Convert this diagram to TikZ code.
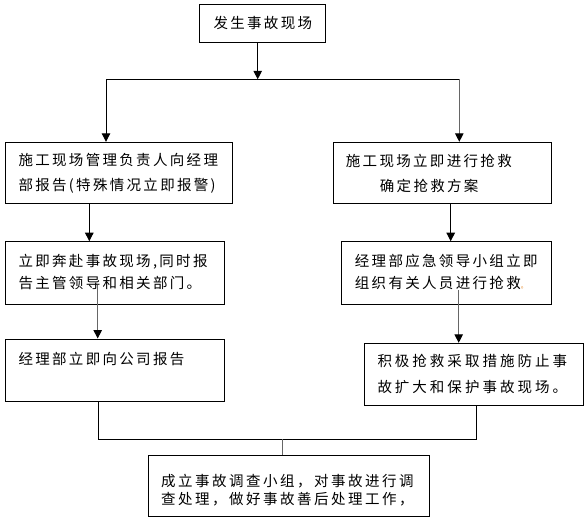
\documentclass[tikz,border=0pt]{standalone}
\usepackage{fontspec}
\usetikzlibrary{arrows.meta}
\newfontfamily\cjk{Noto Sans CJK SC}
\newcommand{\txtfont}[2]{\cjk\fontsize{14.5}{#1}\selectfont\addfontfeature{LetterSpace=#2}}
\tikzset{
 box/.style={draw, line width=1pt, inner sep=0pt},
 txt/.style={inner sep=0pt, anchor=west, align=left},
 arr/.style={line width=1pt, -{Triangle[width=8.5pt,length=8.5pt,color=black]}},
 grayarr/.style={arr, draw=black!60},
 con/.style={line width=1pt},
}
\begin{document}
\begin{tikzpicture}[x=1pt,y=-1pt]
\useasboundingbox (0,0) rectangle (588,521);
\fill[white] (0,0) rectangle (588,521);

% boxes
\node[box, minimum width=126pt, minimum height=38pt] (top) at (262.3,23.3) {};
\node[box, minimum width=227pt, minimum height=61.7pt] (b1l) at (118.8,173.15) {};
\node[box, minimum width=218pt, minimum height=61.7pt] (b1r) at (442.3,173.15) {};
\node[box, minimum width=219pt, minimum height=62.3pt] (b2l) at (114.8,272.85) {};
\node[box, minimum width=210pt, minimum height=62.3pt] (b2r) at (446.3,272.85) {};
\node[box, minimum width=219pt, minimum height=62pt] (b3l) at (114.8,370) {};
\node[box, minimum width=218.6pt, minimum height=61.7pt] (b3r) at (474,374.15) {};
\node[box, minimum width=281.4pt, minimum height=61pt] (bot) at (289,486.2) {};

% texts
\node[txt, font={\txtfont{24.7}{16}}] (t0) at (213.3,23.3) {发生事故现场};
\node[txt, font={\txtfont{24.7}{16}}] (t1l) at (18.3,173.3) {施工现场管理负责人向经理\\部报告(特殊情况立即报警)};
\node[txt, font={\txtfont{24.7}{16}}] (t1r) at (345.7,173.3) {施工现场立即进行抢救\\\hspace*{34pt}确定抢救方案};
\node[txt, font={\txtfont{22.6}{16}}] (t2l) at (18.3,272) {立即奔赴事故现场,同时报\\告主管领导和相关部门。};
\node[txt, font={\txtfont{22.6}{16}}] (t2r) at (354.7,272) {经理部应急领导小组立即\\组织有关人员进行抢救{\color{orange!80!gray}\fontsize{7}{7}\selectfont 。}};
\node[txt, font={\txtfont{24.7}{16}}] (t3l) at (18.3,359) {经理部立即向公司报告};
\node[txt, font={\txtfont{25.7}{20.7}}] (t3r) at (377.3,373.8) {积极抢救采取措施防止事\\故扩大和保护事故现场。};
\node[txt, font={\txtfont{18.3}{17.2}}] (tb) at (161,490.2) {成立事故调查小组，对事故进行调\\查处理，做好事故善后处理工作，};

% connectors
\coordinate (sL) at (106,79.3);
\coordinate (sR) at (459.3,79.3);
\coordinate (sM) at (257.7,79.3);
\draw[arr] (top.south -| sM) -- (sM);
\draw[con] (sL) -- (sR);
\draw[arr] (sL) -- (sL |- b1l.north);
\draw[grayarr] (sR) -- (sR |- b1r.north);
\coordinate (xa) at (89.3,0);
\coordinate (xb) at (450.7,0);
\draw[arr] (b1l.south -| xa) -- (b2l.north -| xa);
\draw[arr] (b1r.south -| xb) -- (b2r.north -| xb);
\coordinate (s2l) at (97.7,285);
\coordinate (s2r) at (458.7,290);
\draw[grayarr] (s2l) -- (s2l |- b3l.north);
\draw[grayarr] (s2r) -- (s2r |- b3r.north);
\coordinate (mL) at (98.7,439.3);
\coordinate (mR) at (476.7,439.3);
\coordinate (mM) at (282.7,439.3);
\draw[con] (b3l.south -| mL) -- (mL) -- (mR) -- (b3r.south -| mR);
\draw[con, draw=black!60] (mM) -- (bot.north -| mM);
\end{tikzpicture}
\end{document}
